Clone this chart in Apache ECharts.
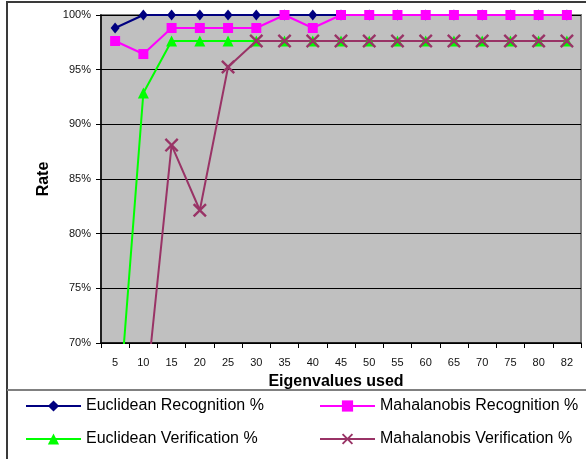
<!DOCTYPE html>
<html>
<head>
<meta charset="utf-8">
<script src="https://cdn.jsdelivr.net/npm/echarts@6/dist/echarts.min.js"></script>
<style>
  html, body { margin: 0; padding: 0; background: #fff; }
  #chart { width: 586px; height: 459px; }
</style>
</head>
<body>
<div id="chart"></div>
<script>
// Number of eigenvalues kept
const categories = ['5', '10', '15', '20', '25', '30', '35', '40', '45', '50', '55', '60', '65', '70', '75', '80', '82'];

// Recognition / verification rates (fractions)
const euclideanRecognition = [0.9881, 1, 1, 1, 1, 1, 1, 1, 1, 1, 1, 1, 1, 1, 1, 1, 1];
const mahalanobisRecognition = [0.9762, 0.9643, 0.9881, 0.9881, 0.9881, 0.9881, 1, 0.9881, 1, 1, 1, 1, 1, 1, 1, 1, 1];
const euclideanVerification = [0.595, 0.9286, 0.9762, 0.9762, 0.9762, 0.9762, 0.9762, 0.9762, 0.9762, 0.9762, 0.9762, 0.9762, 0.9762, 0.9762, 0.9762, 0.9762, 0.9762];
const mahalanobisVerification = [0.60, 0.631, 0.881, 0.8214, 0.9524, 0.9762, 0.9762, 0.9762, 0.9762, 0.9762, 0.9762, 0.9762, 0.9762, 0.9762, 0.9762, 0.9762, 0.9762];

// Rate axis ticks
const yMin = 0.70, yMax = 1.00, yStep = 0.05;

const FONT = "'Liberation Sans', Arial, sans-serif";
const crossPath = 'path://M0,1.2 L1.2,0 L5,3.8 L8.8,0 L10,1.2 L6.2,5 L10,8.8 L8.8,10 L5,6.2 L1.2,10 L0,8.8 L3.8,5 Z';

const chart = echarts.init(document.getElementById('chart'), null, { renderer: 'canvas' });

function lineSeries(name, data, color, symbol, size) {
  return {
    name: name,
    type: 'line',
    data: data,
    symbol: symbol,
    symbolSize: size,
    showAllSymbol: true,
    animation: false,
    lineStyle: { color: color, width: 2 },
    itemStyle: { color: color },
    emphasis: { disabled: true }
  };
}

chart.setOption({
  animation: false,
  textStyle: { fontFamily: FONT },
  grid: {
    left: 101, right: 5, top: 15, bottom: 116,
    show: true,
    backgroundColor: '#C0C0C0',
    borderColor: '#808080',
    borderWidth: 2
  },
  xAxis: {
    type: 'category',
    data: categories,
    boundaryGap: true,
    name: 'Eigenvalues used',
    nameLocation: 'middle',
    nameGap: 31,
    nameTextStyle: { fontFamily: FONT, fontSize: 16, fontWeight: 'bold', color: '#000', padding: [0, 10, 0, 0] },
    axisLine: { lineStyle: { color: '#000', width: 1.5 } },
    axisTick: { show: true, length: 5, alignWithLabel: false, interval: 0, lineStyle: { color: '#000' } },
    axisLabel: { interval: 0, margin: 14, fontFamily: FONT, fontSize: 11, color: '#111' },
    splitLine: { show: false }
  },
  yAxis: {
    type: 'value',
    min: yMin,
    max: yMax,
    interval: yStep,
    name: 'Rate',
    nameLocation: 'middle',
    nameGap: 49,
    nameRotate: 90,
    nameTextStyle: { fontFamily: FONT, fontSize: 16, fontWeight: 'bold', color: '#000' },
    axisLine: { show: true, lineStyle: { color: '#000', width: 1.5 } },
    axisTick: { show: true, length: 5, lineStyle: { color: '#000' } },
    axisLabel: {
      margin: 10,
      fontFamily: FONT, fontSize: 11, color: '#111',
      formatter: v => Math.round(v * 100) + '%'
    },
    splitLine: { show: true, lineStyle: { color: '#000', width: 1 } }
  },
  legend: [
    {
      orient: 'vertical',
      left: 20, top: 393,
      itemWidth: 55, itemHeight: 14, itemGap: 17,
      textStyle: { fontFamily: FONT, fontSize: 16, color: '#000' },
      selectedMode: false,
      data: ['Euclidean Recognition %', 'Euclidean Verification %']
    },
    {
      orient: 'vertical',
      left: 314, top: 393,
      itemWidth: 55, itemHeight: 14, itemGap: 17,
      textStyle: { fontFamily: FONT, fontSize: 16, color: '#000' },
      selectedMode: false,
      data: ['Mahalanobis Recognition %', 'Mahalanobis Verification %']
    }
  ],
  graphic: [
    // outer frame and legend separator
    { type: 'line', shape: { x1: 6, y1: 2, x2: 586, y2: 2 }, style: { stroke: '#3a3a3a', lineWidth: 2 }, z: 100 },
    { type: 'line', shape: { x1: 7, y1: 1, x2: 7, y2: 459 }, style: { stroke: '#3a3a3a', lineWidth: 2 }, z: 100 },
    { type: 'line', shape: { x1: 7, y1: 390, x2: 586, y2: 390 }, style: { stroke: '#808080', lineWidth: 2 }, z: 100 }
  ],
  series: [
    lineSeries('Euclidean Recognition %', euclideanRecognition, '#000080', 'diamond', [9, 11]),
    lineSeries('Mahalanobis Recognition %', mahalanobisRecognition, '#FF00FF', 'rect', 10),
    lineSeries('Euclidean Verification %', euclideanVerification, '#00FF00', 'triangle', 11),
    lineSeries('Mahalanobis Verification %', mahalanobisVerification, '#993366', crossPath, 14)
  ]
});
</script>
</body>
</html>
